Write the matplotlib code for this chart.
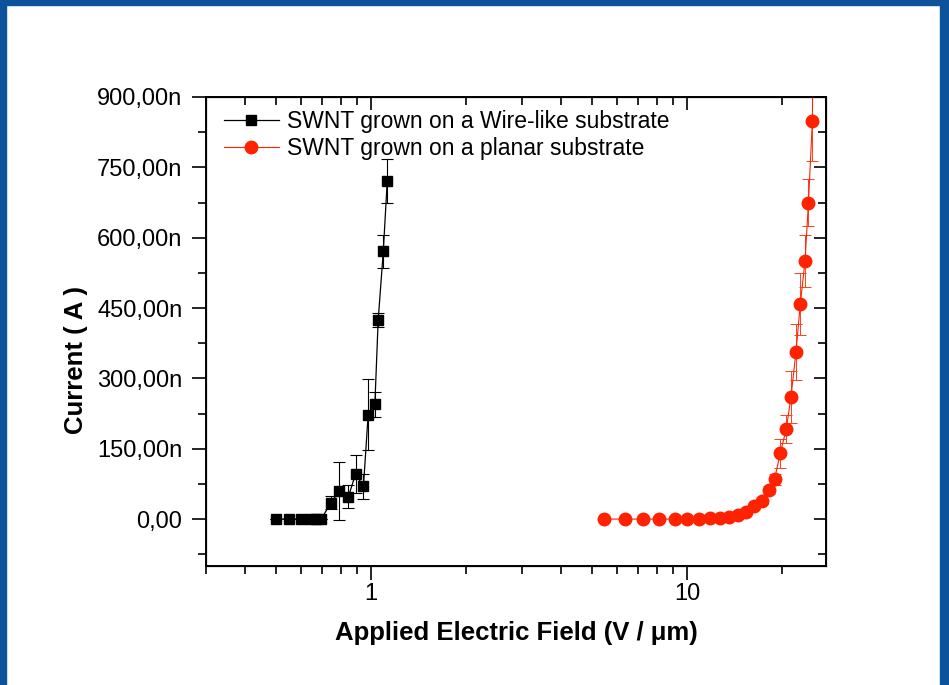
import matplotlib
matplotlib.use("Agg")
import matplotlib.pyplot as plt
from matplotlib.ticker import FixedLocator, FixedFormatter, MultipleLocator, NullFormatter, LogLocator
from matplotlib.patches import Rectangle

plt.rcParams['font.family'] = ['Liberation Sans', 'DejaVu Sans']

# Field emission current of SWNT films (V/um vs. A, in nA)
wire_field = [0.50, 0.55, 0.60, 0.645, 0.67, 0.695, 0.745, 0.793, 0.847, 0.892,
              0.945, 0.978, 1.027, 1.052, 1.092, 1.124]
wire_current = [0, 0, 0, 0, 0, 0, 35, 60, 48, 96, 70, 223, 245, 424, 571, 721]
wire_err = [0, 0, 0, 0, 0, 0, 14, 62, 24, 40, 27, 75, 27, 15, 35, 46]

planar_field = [5.46, 6.36, 7.27, 8.17, 9.16, 9.98, 10.9, 11.8, 12.7, 13.6, 14.5,
                15.4, 16.3, 17.2, 18.1, 18.9, 19.7, 20.6, 21.3, 22.1, 22.8, 23.6,
                24.2, 24.9, 25.05]
planar_current = [0, 0, 0, 0, 0, 0, 1, 2, 3, 5, 8, 16, 28, 38, 62, 85, 140, 193,
                  260, 357, 458, 550, 675, 848, 1050]
planar_err = [0, 0, 0, 0, 0, 0, 0, 0, 1, 1, 2, 3, 4, 5, 8, 12, 30, 30, 55, 60,
              66, 55, 50, 85, 0]

y_tick_values = [0, 150, 300, 450, 600, 750, 900]
y_tick_labels = ["0,00", "150,00n", "300,00n", "450,00n", "600,00n", "750,00n", "900,00n"]
x_tick_values = [1, 10]
x_tick_labels = ["1", "10"]

label_wire = "SWNT grown on a Wire-like substrate"
label_planar = "SWNT grown on a planar substrate"

black = "black"
red = "#ff2200"

fig = plt.figure(figsize=(9.49, 6.85), dpi=100)
fig.patch.set_facecolor("white")

# slide frame
frame_color = "#0d539b"
fig.patches.append(Rectangle((0, 0), 6 / 949, 1, transform=fig.transFigure,
                             color=frame_color, zorder=0))
fig.patches.append(Rectangle((0, 1 - 5 / 685), 1, 5 / 685, transform=fig.transFigure,
                             color=frame_color, zorder=0))
fig.patches.append(Rectangle((1 - 9 / 949, 0), 9 / 949, 1, transform=fig.transFigure,
                             color=frame_color, zorder=0))

ax = fig.add_axes([206 / 949, 119 / 685, 620 / 949, 469 / 685])
ax.set_xscale("log")

# error bars
ax.errorbar(wire_field, wire_current, yerr=wire_err, fmt="none", ecolor=black,
            elinewidth=0.8, capsize=4, capthick=0.8, zorder=2)
ax.errorbar(planar_field, planar_current, yerr=planar_err, fmt="none", ecolor="#ff4020",
            elinewidth=0.7, capsize=4, capthick=0.7, zorder=2)

# data lines with symbols
ax.plot(wire_field, wire_current, color=black, lw=0.9, marker="s", ms=7.5,
        mfc=black, mec=black, label=label_wire, zorder=3)
ax.plot(planar_field, planar_current, color=red, lw=0.8, marker="o", ms=9,
        mfc=red, mec=red, label=label_planar, zorder=3,
        markevery=list(range(len(planar_field) - 1)))

ax.set_xlim(0.3, 27.5)
ax.set_ylim(-100, 900)

ax.yaxis.set_major_locator(FixedLocator(y_tick_values))
ax.yaxis.set_major_formatter(FixedFormatter(y_tick_labels))
ax.yaxis.set_minor_locator(MultipleLocator(75))
ax.xaxis.set_major_locator(FixedLocator(x_tick_values))
ax.xaxis.set_major_formatter(FixedFormatter(x_tick_labels))
ax.xaxis.set_minor_locator(LogLocator(base=10, subs=range(2, 10), numticks=20))
ax.xaxis.set_minor_formatter(NullFormatter())

ax.tick_params(which="both", direction="out", top=False, right=False, width=1.2,
               labelsize=17, colors="black")
ax.tick_params(which="major", length=10)
ax.tick_params(which="minor", length=6)
ax.tick_params(axis="x", pad=2)
ax.tick_params(axis="y", pad=7)
for s in ax.spines.values():
    s.set_linewidth(1.4)

# mirrored ticks on top and right, pointing inward
ax_top = ax.twiny()
ax_top.set_xscale("log")
ax_top.set_xlim(ax.get_xlim())
ax_top.xaxis.set_major_locator(FixedLocator(x_tick_values))
ax_top.xaxis.set_minor_locator(LogLocator(base=10, subs=range(2, 10), numticks=20))
ax_top.tick_params(axis="x", which="both", direction="in", labeltop=False, width=1.2)
ax_top.tick_params(axis="x", which="major", length=9)
ax_top.tick_params(axis="x", which="minor", length=6)

ax_right = ax.twinx()
ax_right.set_ylim(ax.get_ylim())
ax_right.yaxis.set_major_locator(FixedLocator(y_tick_values))
ax_right.yaxis.set_minor_locator(MultipleLocator(75))
ax_right.tick_params(axis="y", which="both", direction="in", labelright=False, width=1.2)
ax_right.tick_params(axis="y", which="major", length=9)
ax_right.tick_params(axis="y", which="minor", length=6)

ax.set_xlabel("Applied Electric Field (V / μm)", fontsize=18.5, fontweight="bold",
              labelpad=12)
ax.set_ylabel("Current ( A )", fontsize=18.5, fontweight="bold")
ax.yaxis.set_label_coords(-0.19, 0.44)

leg = ax.legend(loc="upper left", frameon=False, fontsize=16.5, handlelength=2.4,
                handletextpad=0.35, labelspacing=0.2, borderaxespad=0.15,
                bbox_to_anchor=(0.008, 1.0))

fig.savefig("out.png", dpi=100, facecolor=fig.get_facecolor())
